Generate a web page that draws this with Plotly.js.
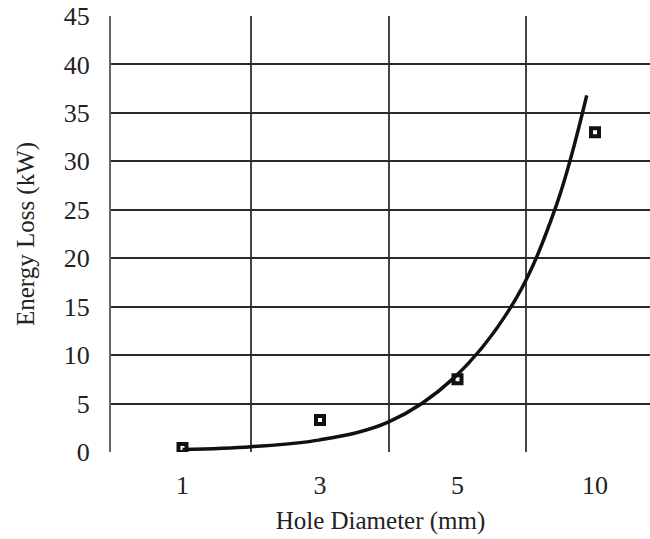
<!DOCTYPE html>
<html>
<head>
<meta charset="utf-8">
<script src="https://cdn.plot.ly/plotly-3.0.1.min.js"></script>
<style>html,body{margin:0;padding:0;background:#fff;}#chart{width:650px;height:539px;}</style>
</head>
<body>
<div id="chart"></div>
<script>
// Categories (hole diameter, mm) and their positions on the axis
const categories = ['1', '3', '5', '10'];
const catPos = [1, 2, 3, 4];
// Measured energy loss (kW)
const energyLoss = [0.4, 3.3, 7.5, 33];
// Exponential trendline, points
const trendX = [1.0, 1.5, 2.0, 2.5, 2.97, 3.42, 3.72, 3.94];
const trendY = [0.25, 0.55, 1.25, 3.1, 7.6, 15.7, 25.5, 36.8];
// Y tick values
const yTicks = [0, 5, 10, 15, 20, 25, 30, 35, 40, 45];
// Category boundaries (vertical gridlines)
const boundaries = [1.5, 2.5, 3.5];

const font = {family: 'Liberation Serif, Times New Roman, serif', color: '#222'};

const traces = [
  {
    x: trendX, y: trendY, type: 'scatter', mode: 'lines',
    line: {color: '#111', width: 3.5, shape: 'spline', smoothing: 1},
    hoverinfo: 'skip', showlegend: false
  },
  {
    x: catPos, y: energyLoss, type: 'scatter', mode: 'markers',
    marker: {symbol: 'square-open', size: 8, color: '#111', line: {color: '#111', width: 4}},
    showlegend: false
  }
];

const layout = {
  width: 650, height: 539,
  margin: {l: 111, r: 0, t: 16, b: 87},
  paper_bgcolor: '#fff', plot_bgcolor: '#fff',
  showlegend: false,
  font: Object.assign({size: 25}, font),
  xaxis: {
    range: [0.48, 4.4],
    tickmode: 'array', tickvals: catPos, ticktext: categories,
    showgrid: false, zeroline: false,
    showline: false,
    ticks: '', ticklabelstandoff: 15,
    tickfont: Object.assign({size: 26}, font),
    minor: {tickmode: 'array', tickvals: boundaries, showgrid: true, gridcolor: '#444', gridwidth: 1.6, ticks: ''},
    title: {text: 'Hole Diameter (mm)', font: Object.assign({size: 25}, font), standoff: 12},
    automargin: false
  },
  yaxis: {
    range: [0, 45],
    tickmode: 'array', tickvals: yTicks,
    showgrid: true, gridcolor: '#2a2a2a', gridwidth: 2,
    zeroline: false,
    showline: true, linecolor: '#666', linewidth: 2,
    ticks: '', ticklabelstandoff: 14,
    tickfont: Object.assign({size: 26}, font),
    title: {text: 'Energy Loss (kW)', font: Object.assign({size: 25}, font), standoff: 22},
    automargin: false
  }
};

Plotly.newPlot('chart', traces, layout, {displayModeBar: false, staticPlot: true});
</script>
</body>
</html>
